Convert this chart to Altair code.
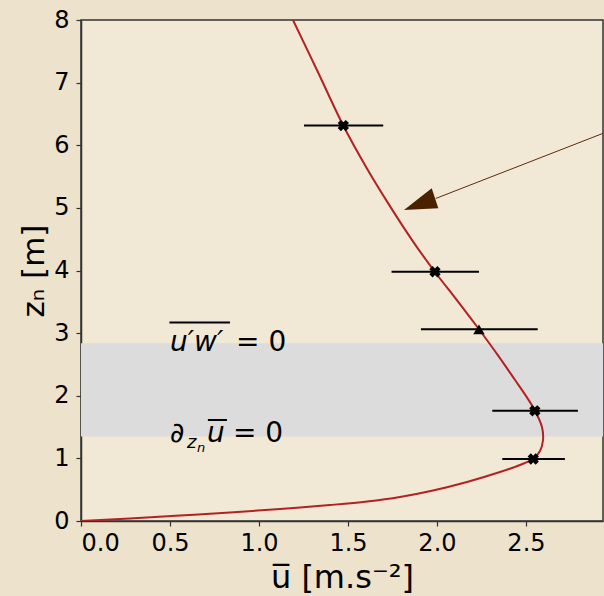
import altair as alt
import pandas as pd

# ---------------- data ----------------
# model profile  (u, z_n)
curve_u = [0.0, 0.275, 0.556, 0.837, 1.118, 1.399, 1.607, 1.792, 1.978, 2.169,
           2.354, 2.466, 2.539, 2.579, 2.596, 2.590, 2.551, 2.511, 2.438, 2.343,
           2.236, 2.112, 1.989, 1.865, 1.735, 1.605, 1.472, 1.331, 1.191]
curve_z = [0.0, 0.040, 0.088, 0.136, 0.192, 0.255, 0.311, 0.383, 0.487, 0.623,
           0.782, 0.894, 0.990, 1.118, 1.293, 1.501, 1.761, 1.950, 2.255, 2.645,
           3.062, 3.527, 3.976, 4.466, 5.032, 5.637, 6.323, 7.170, 8.0]

# observations with horizontal error bars
obs_u = [1.474, 1.989, 2.236, 2.55, 2.541]
obs_z = [6.315, 3.98, 3.06, 1.76, 0.99]
obs_lo = [1.253, 1.745, 1.91, 2.311, 2.367]
obs_hi = [1.698, 2.236, 2.566, 2.792, 2.719]
obs_kind = ["cross", "cross", "triangle", "cross", "cross"]

# shaded layer
band_lo = [1.35]
band_hi = [2.84]

# arrow (line start at the right edge, head tip)
arrow_u = [2.933, 1.993]
arrow_z = [6.19, 5.15]
head_u = [1.815]
head_z = [4.968]

x_ticks = [0.0, 0.5, 1.0, 1.5, 2.0, 2.5]
y_ticks = [0, 1, 2, 3, 4, 5, 6, 7, 8]
x_max = 2.933
y_max = 8

# annotation texts
ann_italic_text = ["u′w′", "z", "n", "u"]
ann_italic_u = [0.50, 0.596, 0.652, 0.708]
ann_italic_z = [2.708, 1.166, 1.102, 1.262]
ann_italic_size = [28, 18, 13, 28]

ann_up_text = ["= 0", "∂", "= 0"]
ann_up_u = [0.871, 0.50, 0.854]
ann_up_z = [2.708, 1.262, 1.262]
ann_up_size = [28, 28, 28]

overline_u1 = [0.497, 0.713]
overline_u2 = [0.837, 0.820]
overline_z = [3.171, 1.613]

# ---------------- chart ----------------
FONT = "DejaVu Sans"
xs = alt.Scale(domain=[0, x_max], nice=False, zero=False)
ys = alt.Scale(domain=[0, y_max], nice=False, zero=False)

curve_df = pd.DataFrame({"u": curve_u, "z": curve_z, "i": range(len(curve_u))})
obs_df = pd.DataFrame({"u": obs_u, "z": obs_z, "lo": obs_lo, "hi": obs_hi, "kind": obs_kind})
band_df = pd.DataFrame({"lo": band_lo, "hi": band_hi, "x0": [0.0], "x1": [x_max]})
arrow_df = pd.DataFrame({"u": [arrow_u[0]], "u2": [arrow_u[1]], "z": [arrow_z[0]], "z2": [arrow_z[1]]})
head_df = pd.DataFrame({"u": head_u, "z": head_z})
it_df = pd.DataFrame({"u": ann_italic_u, "z": ann_italic_z, "t": ann_italic_text, "s": ann_italic_size})
up_df = pd.DataFrame({"u": ann_up_u, "z": ann_up_z, "t": ann_up_text, "s": ann_up_size})
ov_df = pd.DataFrame({"u": overline_u1, "u2": overline_u2, "z": overline_z})

x_axis = alt.Axis(values=x_ticks, format=".1f", title="u̅ [m.s⁻²]", grid=False,
                  labelFont=FONT, labelFontSize=24, labelColor="black",
                  labelPadding=5, tickSize=5, tickColor="#333", domainColor="#333",
                  domainWidth=1.5, tickWidth=1.2,
                  titleFont=FONT, titleFontSize=32, titleFontWeight="normal",
                  titleColor="black", titleBaseline="alphabetic", titleY=66)
y_axis = alt.Axis(values=y_ticks, format="d", title="zₙ [m]", grid=False,
                  labelFont=FONT, labelFontSize=24, labelColor="black",
                  labelPadding=7, tickSize=5, tickColor="#333", domainColor="#333",
                  domainWidth=1.5, tickWidth=1.2,
                  titleFont=FONT, titleFontSize=31, titleFontWeight="normal",
                  titleColor="black", titleBaseline="alphabetic", titleX=-38)

band = alt.Chart(band_df).mark_rect(color="#dcdcdc", clip=True).encode(
    x=alt.X("x0:Q", scale=xs, axis=x_axis),
    x2="x1:Q",
    y=alt.Y("lo:Q", scale=ys, axis=y_axis),
    y2="hi:Q",
)

curve = alt.Chart(curve_df).mark_line(color="#b22222", strokeWidth=2,
                                      interpolate="catmull-rom", clip=True).encode(
    x=alt.X("u:Q", scale=xs), y=alt.Y("z:Q", scale=ys), order="i:Q"
)

bars = alt.Chart(obs_df).mark_rule(color="black", strokeWidth=2).encode(
    x=alt.X("lo:Q", scale=xs), x2="hi:Q", y=alt.Y("z:Q", scale=ys)
)

crosses = alt.Chart(obs_df).transform_filter(alt.datum.kind == "cross").mark_point(
    shape="cross", angle=45, filled=True, color="black", size=130, opacity=1
).encode(x=alt.X("u:Q", scale=xs), y=alt.Y("z:Q", scale=ys))

tris = alt.Chart(obs_df).transform_filter(alt.datum.kind == "triangle").mark_point(
    shape="triangle-up", filled=True, color="black", size=130, opacity=1
).encode(x=alt.X("u:Q", scale=xs), y=alt.Y("z:Q", scale=ys))

arrow_line = alt.Chart(arrow_df).mark_rule(color="#5a2d0c", strokeWidth=1).encode(
    x=alt.X("u:Q", scale=xs), x2="u2:Q", y=alt.Y("z:Q", scale=ys), y2="z2:Q"
)

arrow_head = alt.Chart(head_df).mark_point(
    shape="M0,0 L27.7,-21.7 L34.3,-1.7 Z", size=4, filled=True,
    color="#4a2200", opacity=1
).encode(x=alt.X("u:Q", scale=xs), y=alt.Y("z:Q", scale=ys))

it_text = alt.Chart(it_df).mark_text(font=FONT, fontStyle="italic", align="left",
                                     baseline="alphabetic", color="black").encode(
    x=alt.X("u:Q", scale=xs), y=alt.Y("z:Q", scale=ys), text="t:N",
    size=alt.Size("s:Q", scale=None, legend=None)
)

up_text = alt.Chart(up_df).mark_text(font=FONT, align="left",
                                     baseline="alphabetic", color="black").encode(
    x=alt.X("u:Q", scale=xs), y=alt.Y("z:Q", scale=ys), text="t:N",
    size=alt.Size("s:Q", scale=None, legend=None)
)

overlines = alt.Chart(ov_df).mark_rule(color="black", strokeWidth=2).encode(
    x=alt.X("u:Q", scale=xs), x2="u2:Q", y=alt.Y("z:Q", scale=ys)
)

chart = alt.layer(
    band, curve, bars, crosses, tris, arrow_line, arrow_head, it_text, up_text, overlines
).properties(
    width=522, height=501,
    padding={"left": 81, "top": 20, "right": 1, "bottom": 75},
    autosize=alt.AutoSizeParams(type="none"),
    background="#ede2cc",
).configure_view(
    fill="#f1e8d6", stroke="#333", strokeWidth=1.5
)

chart.save("out.html", embed_options={"renderer": "svg", "actions": False})
